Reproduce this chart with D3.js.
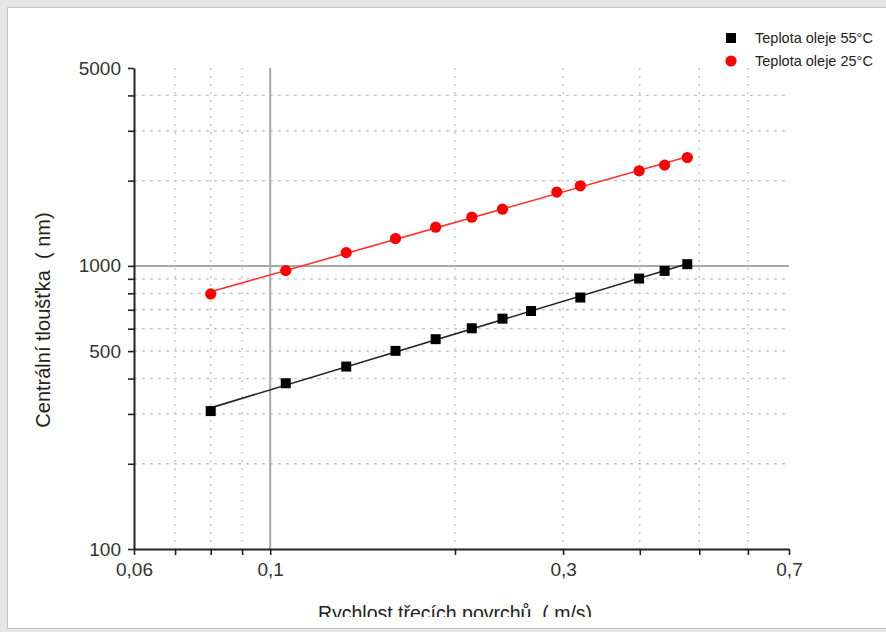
<!DOCTYPE html>
<html>
<head>
<meta charset="utf-8">
<script src="https://cdn.jsdelivr.net/npm/d3@7"></script>
<style>
  body { margin: 0; background: #e6e6e6; font-family: "Liberation Sans", Arial, sans-serif; }
  svg { display: block; }
  .title { white-space: pre; }
</style>
</head>
<body>
<div id="chart"></div>
<script>

var width = 886;
var height = 632;

// data (x in m/s, y in nm)
var xCold = [0.080, 0.106, 0.133, 0.160, 0.186, 0.213, 0.239, 0.293, 0.320, 0.399, 0.439, 0.478];
var yCold = [796, 962, 1114, 1249, 1370, 1486, 1586, 1822, 1918, 2167, 2269, 2414];
var xHot = [0.080, 0.106, 0.133, 0.160, 0.186, 0.213, 0.239, 0.266, 0.320, 0.399, 0.439, 0.478];
var yHot = [307, 385, 441, 501, 551, 602, 651, 693, 773, 902, 960, 1014];

var seriesNames = ["Teplota oleje 55°C", "Teplota oleje 25°C"];

var xTicks = [0.06, 0.07, 0.08, 0.09, 0.1, 0.2, 0.3, 0.4, 0.5, 0.6, 0.7];
var xLabels = [0.06, 0.1, 0.3, 0.7];
var xGrid = [0.07, 0.08, 0.09, 0.2, 0.3, 0.4, 0.5, 0.6];
var yTicks = [100, 200, 300, 400, 500, 600, 700, 800, 900, 1000, 2000, 3000, 4000, 5000];
var yLabels = [100, 500, 1000, 5000];
var yGrid = [200, 300, 400, 500, 600, 700, 800, 900, 2000, 3000, 4000];

var svg = d3.select("#chart")
  .append("svg")
  .attr("width", width)
  .attr("height", height);

// white panel
svg.append("rect")
  .attr("x", 7.5).attr("y", 7.5)
  .attr("width", width).attr("height", 621)
  .attr("fill", "#fff")
  .attr("stroke", "#c4c4c4");

svg.append("clipPath").attr("id", "panel")
  .append("rect").attr("x", 8).attr("y", 8).attr("width", width).attr("height", 609);

var x = d3.scaleLog().domain([0.06, 0.7]).range([134, 789]);
var y = d3.scaleLog().domain([100, 5000]).range([549, 68]);

var comma = function(d) { return String(d).replace(".", ","); };

// dotted grid
svg.append("g").selectAll("line")
  .data(xGrid).enter().append("line")
  .attr("x1", function(d) { return x(d); })
  .attr("x2", function(d) { return x(d); })
  .attr("y1", y(5000)).attr("y2", y(100))
  .attr("stroke", "#c2c2c2").attr("stroke-width", 1.3)
  .attr("stroke-dasharray", "2,6");

svg.append("g").selectAll("line")
  .data(yGrid).enter().append("line")
  .attr("x1", x(0.06)).attr("x2", x(0.7))
  .attr("y1", function(d) { return y(d); })
  .attr("y2", function(d) { return y(d); })
  .attr("stroke", "#c2c2c2").attr("stroke-width", 1.3)
  .attr("stroke-dasharray", "3,5");

// solid reference lines
svg.append("line")
  .attr("x1", x(0.1)).attr("x2", x(0.1))
  .attr("y1", y(5000)).attr("y2", y(100))
  .attr("stroke", "#a8a8a8").attr("stroke-width", 2);
svg.append("line")
  .attr("x1", x(0.06)).attr("x2", x(0.7))
  .attr("y1", y(1000)).attr("y2", y(1000))
  .attr("stroke", "#a8a8a8").attr("stroke-width", 2);

// axes
var xAxis = svg.append("g")
  .attr("transform", "translate(0," + y(100) + ")")
  .call(d3.axisBottom(x).tickValues(xTicks).tickSize(6).tickSizeOuter(0)
    .tickFormat(function(d) { return xLabels.indexOf(d) >= 0 ? comma(d) : ""; }));

var yAxis = svg.append("g")
  .attr("transform", "translate(" + x(0.06) + ",0)")
  .call(d3.axisLeft(y).tickValues(yTicks).tickSize(6).tickSizeOuter(0)
    .tickFormat(function(d) { return yLabels.indexOf(d) >= 0 ? d : ""; }));

[xAxis, yAxis].forEach(function(a) {
  a.select(".domain").attr("stroke", "#222").attr("stroke-width", 2);
  a.selectAll(".tick line").attr("stroke", "#222").attr("stroke-width", 1.6);
  a.selectAll(".tick text")
    .attr("fill", "#333")
    .style("font-family", "Liberation Sans, Arial, sans-serif")
    .style("font-size", "19px");
});
xAxis.selectAll(".tick text").attr("y", 14);
yAxis.selectAll(".tick text").attr("x", -13);

// power-law fit through each series (straight line in log-log)
function fit(xs, ys) {
  var lx = xs.map(Math.log), ly = ys.map(Math.log);
  var mx = d3.mean(lx), my = d3.mean(ly);
  var num = d3.sum(lx, function(v, i) { return (v - mx) * (ly[i] - my); });
  var den = d3.sum(lx, function(v) { return (v - mx) * (v - mx); });
  var b = num / den, a = my - b * mx;
  return d3.extent(xs).map(function(v) { return [v, Math.exp(a + b * Math.log(v))]; });
}

var line = d3.line()
  .x(function(d) { return x(d[0]); })
  .y(function(d) { return y(d[1]); });

svg.append("path").datum(fit(xCold, yCold))
  .attr("d", line).attr("fill", "none")
  .attr("stroke", "#ff3030").attr("stroke-width", 1.6);

svg.append("path").datum(fit(xHot, yHot))
  .attr("d", line).attr("fill", "none")
  .attr("stroke", "#222").attr("stroke-width", 1.6);

svg.append("g").selectAll("circle")
  .data(d3.zip(xCold, yCold)).enter().append("circle")
  .attr("cx", function(d) { return x(d[0]); })
  .attr("cy", function(d) { return y(d[1]); })
  .attr("r", 5.6)
  .attr("fill", "#ff0000");

svg.append("g").selectAll("rect")
  .data(d3.zip(xHot, yHot)).enter().append("rect")
  .attr("x", function(d) { return x(d[0]) - 5; })
  .attr("y", function(d) { return y(d[1]) - 5; })
  .attr("width", 10).attr("height", 10)
  .attr("fill", "#000");

// axis titles
svg.append("text")
  .attr("class", "title")
  .attr("clip-path", "url(#panel)")
  .attr("x", 455).attr("y", 620)
  .attr("text-anchor", "middle")
  .attr("fill", "#222")
  .style("font-size", "19.5px")
  .text("Rychlost třecích povrchů  ( m/s)");

svg.append("text")
  .attr("class", "title")
  .attr("transform", "translate(50,320) rotate(-90)")
  .attr("text-anchor", "middle")
  .attr("fill", "#222")
  .style("font-size", "20px")
  .text("Centrální tloušťka  ( nm)");

// legend
var legend = svg.append("g");
legend.append("rect")
  .attr("x", 726).attr("y", 33).attr("width", 10).attr("height", 10)
  .attr("fill", "#000");
legend.append("circle")
  .attr("cx", 731).attr("cy", 61).attr("r", 5.6)
  .attr("fill", "#ff0000");
legend.selectAll("text")
  .data(seriesNames).enter().append("text")
  .attr("x", 755)
  .attr("y", function(d, i) { return 38 + i * 23; })
  .attr("dy", "0.35em")
  .attr("fill", "#222")
  .style("font-size", "14.5px")
  .text(function(d) { return d; });

</script>
</body>
</html>
